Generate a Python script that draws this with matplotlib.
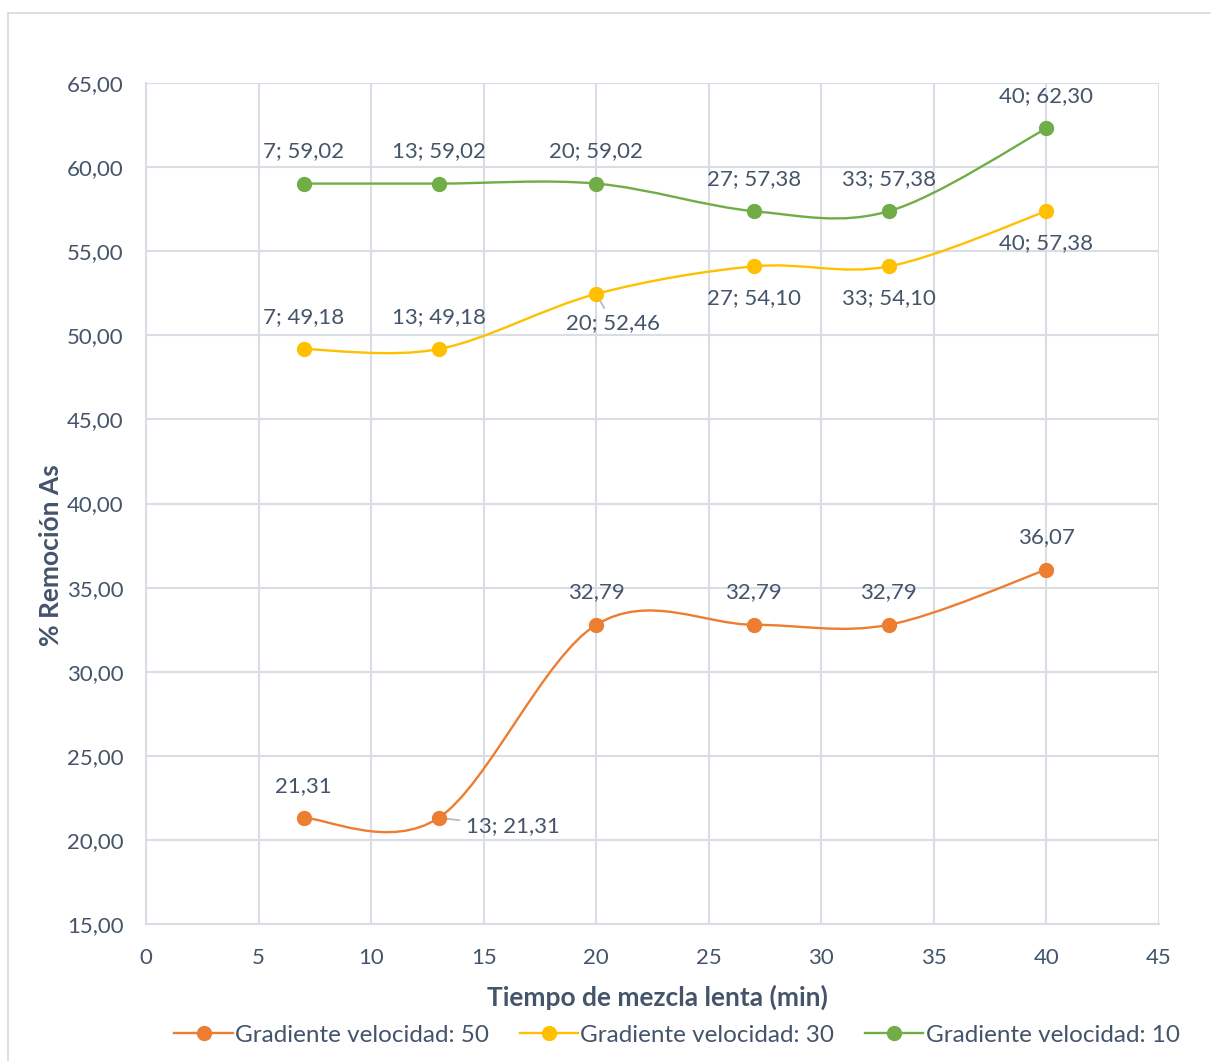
import matplotlib.pyplot as plt
from matplotlib.path import Path
from matplotlib.patches import PathPatch, Rectangle
from matplotlib.lines import Line2D

plt.rcParams['font.family'] = ['Lato', 'DejaVu Sans']

# datos
tiempo = [7, 13, 20, 27, 33, 40]
g50 = [21.31, 21.31, 32.79, 32.79, 32.79, 36.07]
g30 = [49.18, 49.18, 52.46, 54.10, 54.10, 57.38]
g10 = [59.02, 59.02, 59.02, 57.38, 57.38, 62.30]
series = ["Gradiente velocidad: 50", "Gradiente velocidad: 30", "Gradiente velocidad: 10"]
colores = ["#ED7D31", "#FFC000", "#70AD47"]

txt = "#44546A"
grid_c = "#D9DEE6"


def fmt(v):
    return "{:.2f}".format(v).replace(".", ",")


def smooth_path(x, y):
    # curva suavizada tipo Excel (Catmull-Rom con Bezier cubica)
    pts = list(zip(x, y))
    verts = [pts[0]]
    codes = [Path.MOVETO]
    n = len(pts)
    for i in range(n - 1):
        p0 = pts[i - 1] if i > 0 else pts[i]
        p1 = pts[i]
        p2 = pts[i + 1]
        p3 = pts[i + 2] if i + 2 < n else pts[i + 1]
        c1 = (p1[0] + (p2[0] - p0[0]) / 6, p1[1] + (p2[1] - p0[1]) / 6)
        c2 = (p2[0] - (p3[0] - p1[0]) / 6, p2[1] - (p3[1] - p1[1]) / 6)
        verts += [c1, c2, p2]
        codes += [Path.CURVE4] * 3
    return Path(verts, codes)


fig = plt.figure(figsize=(12.11, 10.61), dpi=100)
fig.patches.append(Rectangle((8 / 1211, -0.02), 1.05, 1 - 13 / 1061 + 0.02,
                             transform=fig.transFigure, fill=False,
                             edgecolor="#D9D9D9", lw=1.2))
ax = fig.add_axes([146 / 1211, 1 - 924 / 1061, (1159 - 146) / 1211, (924 - 83) / 1061])

for ys, c in zip([g50, g30, g10], colores):
    ax.add_patch(PathPatch(smooth_path(tiempo, ys), fill=False, edgecolor=c, lw=1.7, zorder=3))
    ax.plot(tiempo, ys, "o", color=c, ms=10, zorder=4)

ax.set_xlim(0, 45)
ax.set_ylim(15, 65)
ax.set_xticks(range(0, 50, 5))
ax.set_yticks(range(15, 70, 5))
ax.set_yticklabels([fmt(v) for v in range(15, 70, 5)])
ax.grid(True, color=grid_c, lw=1.5)
ax.set_axisbelow(True)
for s in ["top", "right"]:
    ax.spines[s].set_visible(False)
for s in ["left", "bottom"]:
    ax.spines[s].set_color(grid_c)
    ax.spines[s].set_linewidth(1.5)
ax.tick_params(length=0, labelsize=16, colors=txt)
ax.tick_params(axis="y", pad=16)
ax.tick_params(axis="x", pad=17)
ax.set_xlabel("Tiempo de mezcla lenta (min)", fontsize=19, fontweight="bold", color=txt)
ax.set_ylabel("% Remoción As", fontsize=19, fontweight="bold", color=txt)
ax.xaxis.set_label_coords((657 - 146) / 1013, -(985 - 924) / 841)
ax.yaxis.set_label_coords(-(146 - 63) / 1013, (924 - 555) / 841)

lab = dict(fontsize=16, color=txt, ha="center")
# etiquetas verdes (arriba)
for x, y in zip(tiempo, g10):
    ax.annotate("{}; {}".format(x, fmt(y)), (x, y), xytext=(0, 16), textcoords="offset points", va="bottom", **lab)
# etiquetas amarillas
for i, (x, y) in enumerate(zip(tiempo, g30)):
    t = "{}; {}".format(x, fmt(y))
    if i < 2:
        ax.annotate(t, (x, y), xytext=(0, 16), textcoords="offset points", va="bottom", **lab)
    elif i == 2:
        ax.annotate(t, (x, y), xytext=(12, -14), textcoords="offset points", va="top",
                    arrowprops=dict(arrowstyle="-", color="#B4BCC6", lw=1.3, shrinkA=2, shrinkB=0), **lab)
    else:
        ax.annotate(t, (x, y), xytext=(0, -16), textcoords="offset points", va="top", **lab)
# etiquetas naranjas
for i, (x, y) in enumerate(zip(tiempo, g50)):
    if i == 1:
        ax.annotate("{}; {}".format(x, fmt(y)), (x, y), xytext=(20, -6), textcoords="offset points",
                    ha="left", va="center", fontsize=16, color=txt,
                    arrowprops=dict(arrowstyle="-", color="#B4BCC6", lw=1.3, shrinkA=3, shrinkB=0))
    else:
        ax.annotate(fmt(y), (x, y), xytext=(0, 16), textcoords="offset points", va="bottom", **lab)

handles = [Line2D([0], [0], color=c, lw=1.7, marker="o", ms=10) for c in colores]
fig.legend(handles, series, loc="center", bbox_to_anchor=(677 / 1211, 1 - 1035 / 1061), ncol=3,
           frameon=False, fontsize=17.5, labelcolor=txt, handlelength=2.4, handletextpad=0.1,
           columnspacing=1.25)

fig.savefig("out.png", dpi=100)
